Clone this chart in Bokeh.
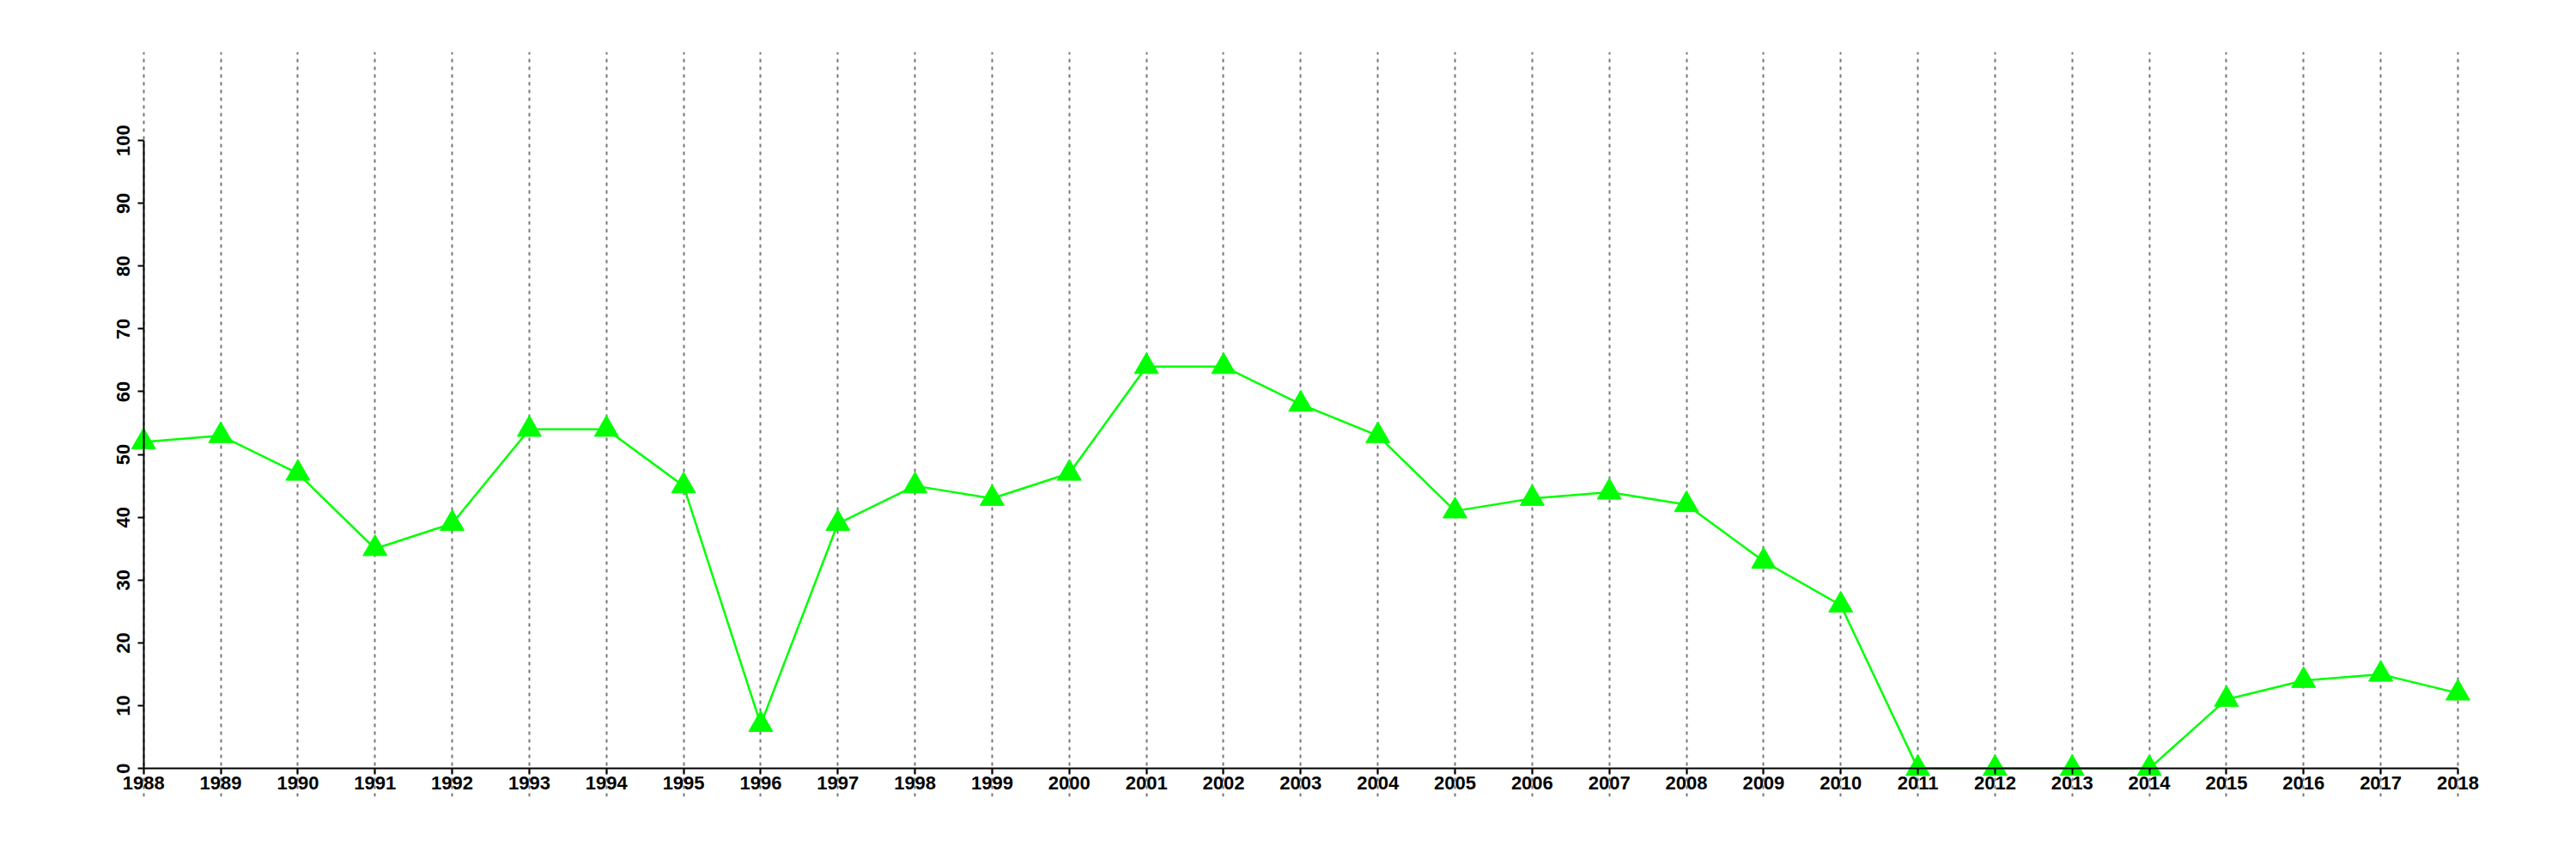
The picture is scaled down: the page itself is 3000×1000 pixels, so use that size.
import numpy as np
from bokeh.plotting import figure
from bokeh.models import FixedTicker, Range1d
from bokeh.embed import file_html
from bokeh.resources import INLINE

years = list(range(1988, 2019))
values = [52, 53, 47, 35, 39, 54, 54, 45, 7, 39, 45, 43, 47, 64, 64, 58, 53,
          41, 43, 44, 42, 33, 26, 0, 0, 0, 0, 11, 14, 15, 12]
y_ticks = [0, 10, 20, 30, 40, 50, 60, 70, 80, 90, 100]

GREEN = "#00FF00"
FONT = "Liberation Sans"

p = figure(frame_width=2775, frame_height=867,
           min_border_left=120, min_border_top=60, min_border_right=80, min_border_bottom=45,
           x_range=Range1d(1987.48, 2018.368), y_range=Range1d(-4.5, 114.1),
           output_backend="svg", toolbar_location=None)
p.outline_line_color = None
p.background_fill_color = "white"
p.border_fill_color = "white"

# grid: only vertical dotted lines at each year
p.ygrid.grid_line_color = None
p.xgrid.ticker = FixedTicker(ticks=years)
p.xgrid.grid_line_color = "#777777"
p.xgrid.grid_line_width = 2
p.xgrid.grid_line_dash = "4 5"

# x axis
xa = p.xaxis[0]
xa.ticker = FixedTicker(ticks=years)
xa.fixed_location = 0
xa.bounds = (1988, 2018)
xa.axis_line_width = 2
xa.axis_line_color = "black"
xa.major_tick_line_width = 2
xa.major_tick_in = 0
xa.major_tick_out = 7
xa.minor_tick_line_color = None
xa.major_label_standoff = 2
xa.major_label_text_font = FONT
xa.major_label_text_font_style = "bold"
xa.major_label_text_font_size = "22px"
xa.major_label_text_color = "black"

# y axis
ya = p.yaxis[0]
ya.ticker = FixedTicker(ticks=y_ticks)
ya.fixed_location = 1988
ya.bounds = (0, 100)
ya.axis_line_width = 2
ya.axis_line_color = "black"
ya.major_tick_line_width = 2
ya.major_tick_in = 0
ya.major_tick_out = 7
ya.minor_tick_line_color = None
ya.major_label_standoff = 9
ya.major_label_orientation = "vertical"
ya.major_label_text_font = FONT
ya.major_label_text_font_style = "bold"
ya.major_label_text_font_size = "22px"
ya.major_label_text_color = "black"

p.line(years, values, line_color=GREEN, line_width=2.5)
p.scatter(years, values, marker="triangle", size=28, fill_color=GREEN, line_color=GREEN)

open("out.html", "w").write(file_html(p, INLINE))
